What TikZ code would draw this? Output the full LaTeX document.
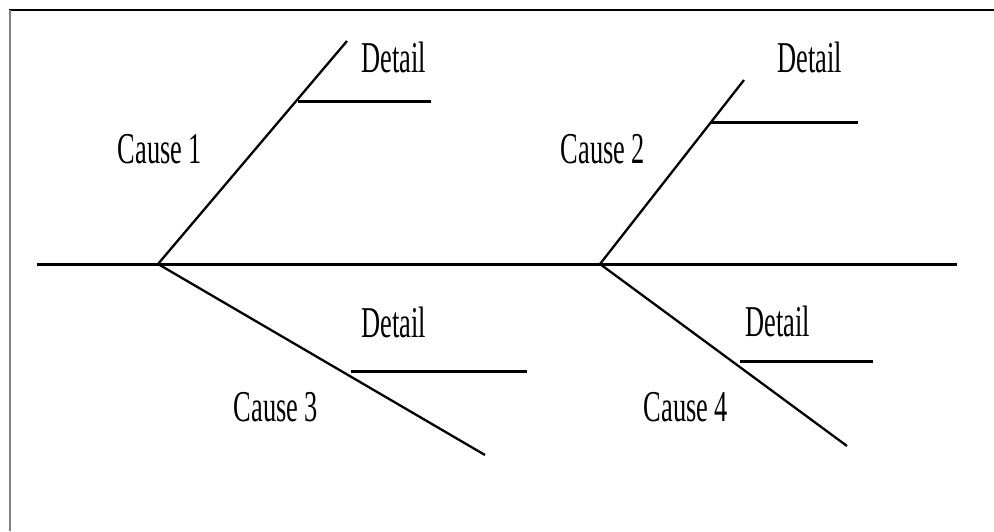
\documentclass[tikz,border=0pt]{standalone}
\usepackage{fontspec}
\setmainfont{Liberation Serif}[FakeStretch=0.6]
\begin{document}
\begin{tikzpicture}[
            x = 1pt, y = -1pt,
            spine/.style = {line width = 3pt},
            bone/.style = {line width = 2.3pt},
            detail/.style = {line width = 3pt},
            label/.style = {font = \fontsize{44}{50}\selectfont, inner sep = 0pt}
            ]
            \useasboundingbox (0,0) rectangle (994,531);
            % frame
            \draw[line width = 2.5pt] (9,10) -- (994,10);
            \draw[line width = 2.5pt, gray] (10,10) -- (10,531);
            % spine and joints
            \coordinate (head) at (37,264);
            \coordinate (tail) at (957,264);
            \coordinate (j1) at (158,264);
            \coordinate (j2) at (600,264);
            \draw[spine] (head) -- (tail);
            % causes
            \coordinate (c1) at (347,41);
            \coordinate (c2) at (744,80);
            \coordinate (c3) at (485,455);
            \coordinate (c4) at (847,446);
            \draw[bone] (j1) -- (c1);
            \draw[bone] (j2) -- (c2);
            \draw[bone] (j1) -- (c3);
            \draw[bone] (j2) -- (c4);
            % details
            \coordinate (d1a) at (298,101);  \coordinate (d1b) at (431,101);
            \coordinate (d2a) at (711,122);  \coordinate (d2b) at (858,122);
            \coordinate (d3a) at (351,371);  \coordinate (d3b) at (527,371);
            \coordinate (d4a) at (740,361);  \coordinate (d4b) at (873,361);
            \draw[detail] (d1a) -- (d1b);
            \draw[detail] (d2a) -- (d2b);
            \draw[detail] (d3a) -- (d3b);
            \draw[detail] (d4a) -- (d4b);
            % labels
            \node[label] (cause1) at (160,149) {Cause 1};
            \node[label] (cause2) at (603,149) {Cause 2};
            \node[label] (cause3) at (276,407) {Cause 3};
            \node[label] (cause4) at (686,407) {Cause 4};
            \node[label] (detail1) at (394,57) {Detail};
            \node[label] (detail2) at (810,57) {Detail};
            \node[label] (detail3) at (394,322) {Detail};
            \node[label] (detail4) at (778,321) {Detail};
          \end{tikzpicture}
\end{document}
